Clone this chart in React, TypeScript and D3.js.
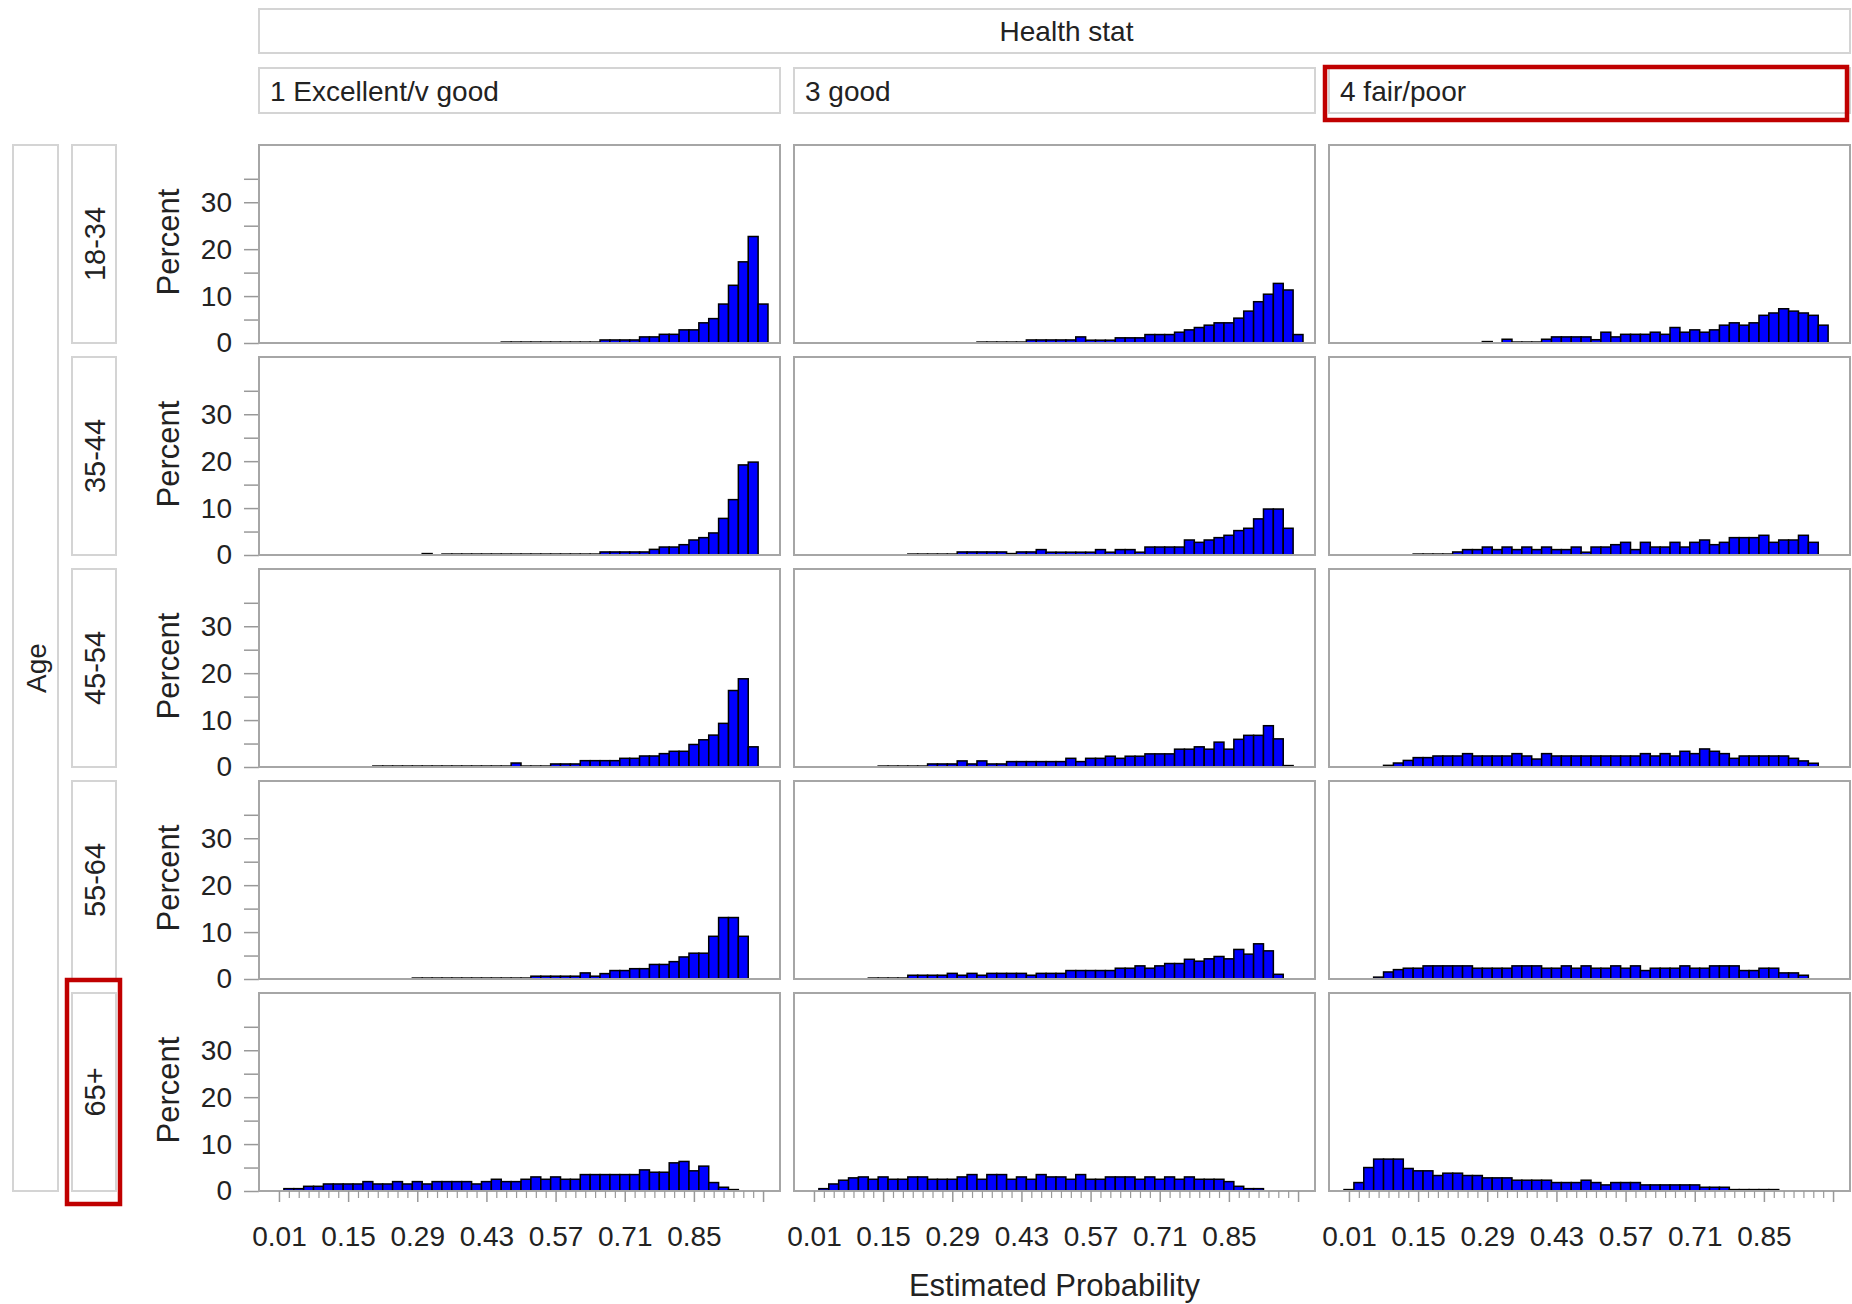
import React, { useEffect, useRef } from "react";
import * as d3 from "d3";

const healthGroups = ["1 Excellent/v good", "3 good", "4 fair/poor"];
const ageGroups = ["18-34", "35-44", "45-54", "55-64", "65+"];

const binWidth = 0.02;
const xMajorTicks = [0.01, 0.15, 0.29, 0.43, 0.57, 0.71, 0.85, 0.99];
const xTickLabels = ["0.01", "0.15", "0.29", "0.43", "0.57", "0.71", "0.85", ""];
const yMajorTicks = [0, 10, 20, 30];
const yMinorTicks = [5, 15, 25, 35];

// percent of subjects per 0.02 bin of estimated probability (bins 0.00-0.02 ... 0.98-1.00)
const age1834Excellent = [
  0, 0, 0, 0, 0, 0, 0, 0, 0, 0,
  0, 0, 0, 0, 0, 0, 0, 0, 0, 0,
  0, 0, 0, 0.2, 0.2, 0.2, 0.2, 0.2, 0.2, 0.2,
  0.2, 0.2, 0.2, 0.65, 0.65, 0.65, 0.65, 1.3, 1.3, 1.85,
  1.85, 2.8, 2.8, 4.3, 5.2, 8.3, 12.3, 17.3, 22.7, 8.3,
];
const age1834Good = [
  0, 0, 0, 0, 0, 0, 0, 0, 0, 0,
  0, 0, 0, 0, 0, 0, 0, 0.2, 0.2, 0.2,
  0.2, 0.2, 0.65, 0.65, 0.65, 0.65, 0.65, 1.3, 0.6, 0.6,
  0.6, 1.1, 1.1, 1.1, 1.8, 1.8, 1.8, 2.3, 2.8, 3.3,
  3.8, 4.3, 4.3, 5.3, 6.8, 8.8, 10.4, 12.7, 11.3, 1.8,
];
const age1834Poor = [
  0, 0, 0, 0, 0, 0, 0, 0, 0, 0,
  0, 0, 0, 0, 0.3, 0, 0.8, 0.2, 0.2, 0.2,
  0.8, 1.3, 1.3, 1.3, 1.3, 0.7, 2.3, 1.3, 1.85, 1.85,
  1.85, 2.3, 1.85, 3.3, 2.3, 2.8, 2.3, 2.8, 3.8, 4.3,
  3.8, 4.3, 5.9, 6.4, 7.3, 6.8, 6.4, 5.9, 3.8, 0,
];

const age3544Excellent = [
  0, 0, 0, 0, 0, 0, 0, 0, 0, 0,
  0, 0, 0, 0, 0, 0.3, 0, 0.2, 0.2, 0.2,
  0.2, 0.2, 0.2, 0.2, 0.2, 0.2, 0.2, 0.2, 0.2, 0.2,
  0.2, 0.2, 0.2, 0.65, 0.65, 0.65, 0.65, 0.65, 1.2, 1.7,
  1.7, 2.2, 3.2, 3.7, 4.7, 7.8, 11.8, 19.2, 19.8, 0,
];
const age3544Good = [
  0, 0, 0, 0, 0, 0, 0, 0, 0, 0,
  0.2, 0.2, 0.2, 0.2, 0.2, 0.65, 0.65, 0.65, 0.65, 0.65,
  0.3, 0.65, 0.65, 1.15, 0.6, 0.6, 0.6, 0.6, 0.6, 1.15,
  0.6, 1.15, 1.15, 0.6, 1.7, 1.7, 1.7, 1.7, 3.2, 2.7,
  3.2, 3.7, 4.2, 5.2, 5.7, 7.7, 9.8, 9.8, 5.7, 0,
];
const age3544Poor = [
  0, 0, 0, 0, 0, 0, 0, 0.2, 0.2, 0.2,
  0.2, 0.65, 1.15, 1.15, 1.7, 1.15, 1.7, 1.15, 1.7, 1.15,
  1.7, 1.15, 1.15, 1.7, 0.6, 1.7, 1.7, 2.2, 2.7, 1.15,
  2.7, 1.7, 1.7, 2.7, 1.7, 2.7, 3.2, 2.2, 2.7, 3.7,
  3.7, 3.7, 4.2, 2.7, 3.2, 3.2, 4.2, 2.7, 0, 0,
];

const age4554Excellent = [
  0, 0, 0, 0, 0, 0, 0, 0, 0, 0,
  0.2, 0.2, 0.2, 0.2, 0.2, 0.2, 0.2, 0.2, 0.2, 0.2,
  0.2, 0.2, 0.2, 0.2, 0.85, 0.2, 0.2, 0.2, 0.65, 0.65,
  0.65, 1.35, 1.35, 1.35, 1.35, 1.85, 1.85, 2.35, 2.35, 2.85,
  3.35, 3.35, 4.8, 5.8, 6.8, 9.3, 16.3, 18.8, 4.3, 0,
];
const age4554Good = [
  0, 0, 0, 0, 0, 0, 0, 0.2, 0.2, 0.2,
  0.2, 0.2, 0.65, 0.65, 0.65, 1.3, 0.65, 1.3, 0.65, 0.65,
  1.15, 1.15, 1.15, 1.15, 1.15, 1.15, 1.85, 1.15, 1.85, 1.85,
  2.3, 1.85, 2.3, 2.3, 2.8, 2.8, 2.8, 3.8, 3.8, 4.3,
  3.8, 5.3, 3.8, 5.9, 6.75, 6.75, 8.8, 6.0, 0.3, 0,
];
const age4554Poor = [
  0, 0, 0, 0, 0.35, 0.85, 1.4, 2.0, 2.0, 2.35,
  2.35, 2.35, 2.85, 2.35, 2.35, 2.35, 2.35, 2.85, 2.35, 1.7,
  2.85, 2.35, 2.35, 2.35, 2.35, 2.35, 2.35, 2.35, 2.35, 2.35,
  2.85, 2.35, 2.85, 2.35, 3.35, 2.85, 3.85, 3.35, 2.85, 1.85,
  2.35, 2.35, 2.35, 2.35, 2.35, 1.85, 1.3, 0.8, 0, 0,
];

const age5564Excellent = [
  0, 0, 0, 0, 0, 0, 0, 0, 0, 0,
  0, 0, 0, 0, 0.2, 0.2, 0.2, 0.2, 0.2, 0.2,
  0.2, 0.2, 0.2, 0.2, 0.2, 0.2, 0.6, 0.6, 0.6, 0.6,
  0.6, 1.3, 0.6, 1.15, 1.8, 1.8, 2.2, 2.2, 3.1, 3.1,
  3.7, 4.7, 5.5, 5.5, 9.1, 13.1, 13.1, 9.1, 0, 0,
];
const age5564Good = [
  0, 0, 0, 0, 0, 0, 0.2, 0.2, 0.2, 0.2,
  0.8, 0.8, 0.8, 0.8, 1.2, 0.8, 1.2, 0.8, 1.2, 1.2,
  1.2, 1.2, 0.8, 1.2, 1.2, 1.2, 1.8, 1.8, 1.8, 1.8,
  1.8, 2.3, 2.3, 2.8, 2.3, 2.8, 3.3, 3.3, 4.2, 3.8,
  4.3, 4.8, 4.3, 6.3, 5.3, 7.5, 6.0, 1.0, 0, 0,
];
const age5564Poor = [
  0, 0, 0, 0.4, 1.5, 2.0, 2.3, 2.3, 2.8, 2.8,
  2.8, 2.8, 2.8, 2.3, 2.3, 2.3, 2.3, 2.8, 2.8, 2.8,
  2.3, 2.3, 2.8, 2.3, 2.8, 2.3, 2.3, 2.8, 2.3, 2.8,
  1.8, 2.3, 2.3, 2.3, 2.8, 2.3, 2.3, 2.8, 2.8, 2.8,
  1.8, 1.8, 2.3, 2.3, 1.3, 1.3, 0.8, 0, 0, 0,
];

const age65Excellent = [
  0, 0.5, 0.5, 1.0, 1.0, 1.5, 1.5, 1.5, 1.5, 2.0,
  1.5, 1.5, 2.0, 1.5, 2.0, 1.5, 2.0, 2.0, 2.0, 2.0,
  1.5, 2.0, 2.5, 2.0, 2.0, 2.5, 3.0, 2.5, 3.0, 2.5,
  2.5, 3.5, 3.5, 3.5, 3.5, 3.5, 3.5, 4.5, 4.0, 4.0,
  6.0, 6.3, 4.3, 5.3, 1.8, 0.8, 0.3, 0, 0, 0,
];
const age65Good = [
  0, 0.5, 1.5, 2.3, 2.8, 3.0, 2.5, 3.0, 2.5, 2.5,
  3.0, 3.0, 2.5, 2.5, 2.5, 3.0, 3.5, 2.5, 3.5, 3.5,
  2.5, 3.0, 2.5, 3.5, 3.0, 3.0, 2.5, 3.5, 2.5, 2.5,
  3.0, 3.0, 3.0, 2.5, 3.0, 2.5, 3.0, 2.5, 3.0, 2.5,
  2.5, 2.5, 2.0, 1.0, 0.5, 0.5, 0, 0, 0, 0,
];
const age65Poor = [
  0.3, 1.8, 5.0, 6.8, 6.8, 6.8, 4.8, 4.3, 4.3, 3.3,
  3.8, 3.8, 3.3, 3.3, 2.8, 2.8, 2.8, 2.3, 2.3, 2.3,
  2.3, 1.8, 1.8, 1.8, 2.3, 1.8, 1.3, 1.8, 1.8, 1.8,
  1.3, 1.3, 1.3, 1.3, 1.3, 1.3, 0.8, 0.8, 0.8, 0.3,
  0.3, 0.3, 0.3, 0.3, 0, 0, 0, 0, 0, 0,
];

const panelData = [
  [age1834Excellent, age1834Good, age1834Poor],
  [age3544Excellent, age3544Good, age3544Poor],
  [age4554Excellent, age4554Good, age4554Poor],
  [age5564Excellent, age5564Good, age5564Poor],
  [age65Excellent, age65Good, age65Poor],
];

const FONT = "'Liberation Sans', Arial, sans-serif";

const HistogramPanel = () => {
  const svgRef = useRef(null);

  useEffect(() => {
    const W = 1852,
      H = 1304;
    const panelW = 521,
      panelH = 198;
    const colX = [259, 794, 1329];
    const rowY = ageGroups.map((_, i) => 145 + i * 212);
    const right = colX[2] + panelW;
    const bottom = rowY[4] + panelH;

    const svg = d3.select(svgRef.current).attr("width", W).attr("height", H);
    svg.selectAll("*").remove();

    const x = d3.scaleLinear().domain([-0.0304, 1.0243]).range([0, panelW]);
    const y = d3.scaleLinear().domain([0, 42.2]).range([panelH, 0]);

    const headerStroke = "#d4d4d4";
    const frameStroke = "#a6a6a6";
    const textColor = "#222";

    // overall header
    svg
      .append("rect")
      .attr("x", colX[0])
      .attr("y", 9)
      .attr("width", right - colX[0])
      .attr("height", 44)
      .attr("fill", "none")
      .attr("stroke", headerStroke)
      .attr("stroke-width", 2);
    svg
      .append("text")
      .attr("x", (colX[0] + right) / 2 + 12)
      .attr("y", 41)
      .attr("text-anchor", "middle")
      .attr("font-size", 28)
      .attr("fill", textColor)
      .text("Health stat");

    // column headers
    healthGroups.forEach((g, c) => {
      svg
        .append("rect")
        .attr("x", colX[c])
        .attr("y", 68)
        .attr("width", panelW)
        .attr("height", 45)
        .attr("fill", "none")
        .attr("stroke", headerStroke)
        .attr("stroke-width", 2);
      svg
        .append("text")
        .attr("x", colX[c] + 11)
        .attr("y", 101)
        .attr("font-size", 28)
        .attr("fill", textColor)
        .text(g);
    });

    // Age outer box
    svg
      .append("rect")
      .attr("x", 13)
      .attr("y", rowY[0])
      .attr("width", 45)
      .attr("height", bottom - rowY[0])
      .attr("fill", "none")
      .attr("stroke", headerStroke)
      .attr("stroke-width", 2);
    svg
      .append("text")
      .attr("transform", `translate(36,${(rowY[0] + bottom) / 2}) rotate(-90)`)
      .attr("text-anchor", "middle")
      .attr("dy", "0.35em")
      .attr("font-size", 28)
      .attr("fill", textColor)
      .text("Age");

    ageGroups.forEach((age, r) => {
      const ry = rowY[r];
      const mid = ry + panelH / 2;

      // row label box
      svg
        .append("rect")
        .attr("x", 72)
        .attr("y", ry)
        .attr("width", 44)
        .attr("height", panelH)
        .attr("fill", "none")
        .attr("stroke", headerStroke)
        .attr("stroke-width", 2);
      svg
        .append("text")
        .attr("transform", `translate(95,${mid}) rotate(-90)`)
        .attr("text-anchor", "middle")
        .attr("dy", "0.35em")
        .attr("font-size", 29)
        .attr("fill", textColor)
        .text(age);

      // y axis title
      svg
        .append("text")
        .attr("transform", `translate(168,${mid - 2}) rotate(-90)`)
        .attr("text-anchor", "middle")
        .attr("dy", "0.35em")
        .attr("font-size", 31)
        .attr("fill", textColor)
        .text("Percent");

      // y axis (left of first column)
      const yg = svg.append("g").attr("transform", `translate(${colX[0]},${ry})`);
      yg.append("g")
        .call(d3.axisLeft(y).tickValues(yMinorTicks).tickSize(15).tickFormat(() => ""))
        .call((g) => g.select(".domain").remove())
        .call((g) => g.selectAll(".tick line").attr("stroke", "#999").attr("stroke-width", 1.5));
      yg.append("g")
        .call(d3.axisLeft(y).tickValues(yMajorTicks).tickSize(15).tickPadding(12).tickFormat(d3.format("d")))
        .call((g) => g.select(".domain").remove())
        .call((g) => g.selectAll(".tick line").attr("stroke", "#999").attr("stroke-width", 1.5))
        .call((g) =>
          g.selectAll("text").attr("font-size", 28).attr("font-family", FONT).attr("fill", textColor)
        );

      healthGroups.forEach((_, c) => {
        const pg = svg.append("g").attr("transform", `translate(${colX[c]},${ry})`);
        const values = panelData[r][c];
        const bins = values
          .map((v, i) => ({ x0: i * binWidth, x1: (i + 1) * binWidth, v }))
          .filter((d) => d.v > 0);

        pg.selectAll("rect.bar")
          .data(bins)
          .enter()
          .append("rect")
          .attr("class", "bar")
          .attr("x", (d) => x(d.x0))
          .attr("y", (d) => y(d.v))
          .attr("width", (d) => x(d.x1) - x(d.x0))
          .attr("height", (d) => y(0) - y(d.v))
          .attr("fill", "#0000ff")
          .attr("stroke", "#000")
          .attr("stroke-width", 1.5);

        // panel frame
        pg.append("rect")
          .attr("width", panelW)
          .attr("height", panelH)
          .attr("fill", "none")
          .attr("stroke", frameStroke)
          .attr("stroke-width", 2);

        // x axis on the bottom row only
        if (r === ageGroups.length - 1) {
          const minor = d3
            .range(49)
            .filter((k) => k % 7 !== 0)
            .map((k) => 0.01 + k * binWidth);
          const xg = pg.append("g").attr("transform", `translate(0,${panelH})`);
          xg.append("g")
            .call(d3.axisBottom(x).tickValues(minor).tickSize(7).tickFormat(() => ""))
            .call((g) => g.select(".domain").remove())
            .call((g) => g.selectAll(".tick line").attr("stroke", "#999").attr("stroke-width", 1.2));
          xg.append("g")
            .call(
              d3
                .axisBottom(x)
                .tickValues(xMajorTicks)
                .tickSize(11)
                .tickPadding(24)
                .tickFormat((d, i) => xTickLabels[i])
            )
            .call((g) => g.select(".domain").remove())
            .call((g) => g.selectAll(".tick line").attr("stroke", "#999").attr("stroke-width", 1.5))
            .call((g) =>
              g.selectAll("text").attr("font-size", 28).attr("font-family", FONT).attr("fill", textColor)
            );
        }
      });
    });

    // x axis title
    svg
      .append("text")
      .attr("x", (colX[0] + right) / 2)
      .attr("y", 1296)
      .attr("text-anchor", "middle")
      .attr("font-size", 31)
      .attr("fill", textColor)
      .text("Estimated Probability");

    // red highlight boxes
    svg
      .append("rect")
      .attr("x", 1325)
      .attr("y", 67)
      .attr("width", 522)
      .attr("height", 53)
      .attr("fill", "none")
      .attr("stroke", "#c00000")
      .attr("stroke-width", 4.5);
    svg
      .append("rect")
      .attr("x", 67)
      .attr("y", 980)
      .attr("width", 53)
      .attr("height", 224)
      .attr("fill", "none")
      .attr("stroke", "#c00000")
      .attr("stroke-width", 4.5);
  }, []);

  return (
    <svg
      ref={svgRef}
      style={{ position: "absolute", left: 0, top: 0, background: "#fff", fontFamily: FONT }}
    ></svg>
  );
};

export default function App() {
  return <HistogramPanel />;
}
